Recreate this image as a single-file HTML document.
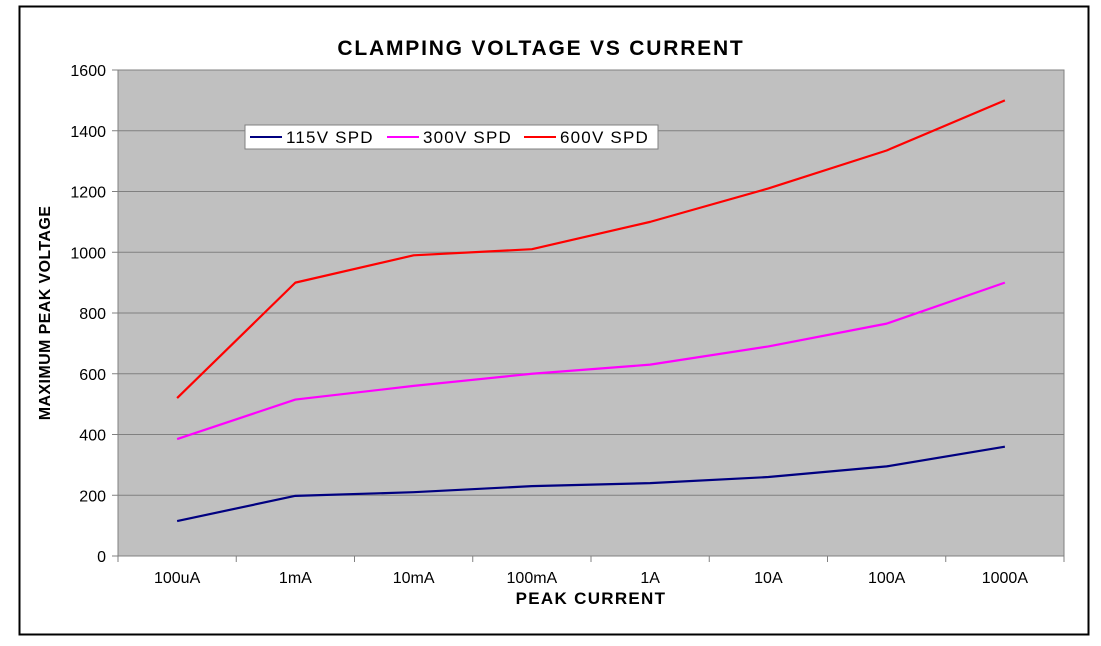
<!DOCTYPE html>
<html><head><meta charset="utf-8"><style>
body{margin:0;background:#fff;width:1101px;height:646px;overflow:hidden}
svg{display:block;font-family:"Liberation Sans",Arial,sans-serif}
</style></head><body>
<svg width="1101" height="646">
<rect x="19.5" y="6.5" width="1069" height="628" fill="#fff" stroke="#000" stroke-width="2"/>
<text x="541" y="55" text-anchor="middle" font-size="21" font-weight="bold" letter-spacing="1.8">CLAMPING VOLTAGE VS CURRENT</text>
<rect x="118" y="70" width="946" height="486" fill="#c0c0c0" stroke="#808080"/>
<g id="grid"></g><g id="axes"></g><g id="series"></g>
<text x="591" y="604" text-anchor="middle" font-size="17" font-weight="bold" letter-spacing="1.3">PEAK CURRENT</text>
<text transform="translate(50,313) rotate(-90)" text-anchor="middle" font-size="16" font-weight="bold" letter-spacing="0.4">MAXIMUM PEAK VOLTAGE</text>
<g>
<rect x="245" y="125" width="413" height="24" fill="#fff" stroke="#808080"/>
<line x1="250" y1="137" x2="282" y2="137" stroke="#000080" stroke-width="2"/>
<text x="286" y="143" font-size="17" letter-spacing="1.2">115V SPD</text>
<line x1="387" y1="137" x2="419" y2="137" stroke="#ff00ff" stroke-width="2"/>
<text x="423" y="143" font-size="17" letter-spacing="1.2">300V SPD</text>
<line x1="524" y1="137" x2="556" y2="137" stroke="#ff0000" stroke-width="2"/>
<text x="560" y="143" font-size="17" letter-spacing="1.2">600V SPD</text>
</g>
</svg>
<script>
const categories=["100uA","1mA","10mA","100mA","1A","10A","100A","1000A"];
const s115=[115,198,210,230,240,260,295,360];
const s300=[385,515,560,600,630,690,765,900];
const s600=[520,900,990,1010,1100,1210,1335,1500];
const yTicks=[0,200,400,600,800,1000,1200,1400,1600];
const NS="http://www.w3.org/2000/svg";
const L=118,R=1064,T=70,B=556,yMax=1600;
const band=(R-L)/categories.length;
const xs=i=>L+band*(i+0.5);
const ys=v=>B-(v/yMax)*(B-T);
function mk(tag,attrs,parent){const e=document.createElementNS(NS,tag);for(const k in attrs)e.setAttribute(k,attrs[k]);parent.appendChild(e);return e;}
const grid=document.getElementById('grid'),axes=document.getElementById('axes'),ser=document.getElementById('series');
yTicks.forEach(v=>{
  const y=ys(v);
  if(v>0&&v<yMax){const g=mk('line',{x1:L,x2:R,y1:y,y2:y,stroke:'#808080','stroke-width':1},grid);
  
  }
  const t=mk('line',{x1:L-6,x2:L,y1:y,y2:y,stroke:'#808080'},axes);
  
  
  const tx=mk('text',{x:L-12,y:y+6,'text-anchor':'end','font-size':16},axes);
  tx.textContent=v;
  
  
});
for(let i=0;i<=categories.length;i++){
  const x=L+band*i;
  const t=mk('line',{x1:x,x2:x,y1:B,y2:B+6,stroke:'#808080'},axes);
  
  
}
categories.forEach((c,i)=>{
  const tx=mk('text',{x:xs(i),y:B+27,'text-anchor':'middle','font-size':16},axes);
  tx.textContent=c;
  
  
});
[[s115,'#000080','series-115v'],[s300,'#ff00ff','series-300v'],[s600,'#ff0000','series-600v']].forEach(([d,col,name])=>{
  const p=mk('polyline',{points:d.map((v,i)=>xs(i)+','+ys(v)).join(' '),fill:'none',stroke:col,'stroke-width':2.2,'stroke-linejoin':'round'},ser);
  
  
});
</script>
</body></html>
